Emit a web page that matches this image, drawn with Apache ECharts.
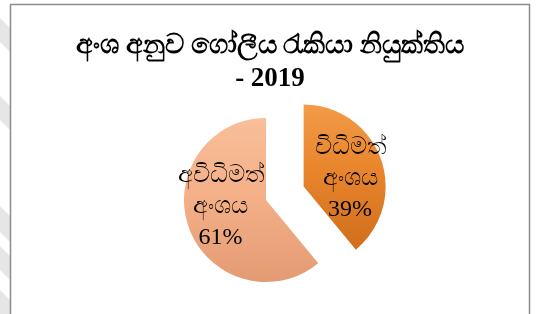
<!DOCTYPE html>
<html>
<head>
<meta charset="utf-8">
<script src="https://cdn.jsdelivr.net/npm/echarts@6/dist/echarts.min.js"></script>
<style>
  body { margin: 0; background: #fff; }
  #chart { width: 540px; height: 314px; }
</style>
</head>
<body>
<div id="chart"></div>
<script>
// chart data
var titleText = 'අංශ අනුව ගෝලීය රැකියා නියුක්තිය\n- 2019';
var sectors = ['විධිමත්\nඅංශය', 'අවිධිමත්\nඅංශය'];
var shares = [39, 61];

var chart = echarts.init(document.getElementById('chart'));

// excel-like bevel colours (top light -> bottom dark)
var fills = [
  new echarts.graphic.LinearGradient(0, 0, 0, 1, [
    { offset: 0, color: '#f29b48' },
    { offset: 0.45, color: '#e8852c' },
    { offset: 1, color: '#d06e1c' }
  ]),
  new echarts.graphic.LinearGradient(0, 0, 0, 1, [
    { offset: 0, color: '#f8bf9a' },
    { offset: 0.5, color: '#f4af86' },
    { offset: 1, color: '#e39b74' }
  ])
];

// label nudges (px) relative to the default inside position
var labelShift = [[5, 7], [-4, -8]];

var pieData = sectors.map(function (name, i) {
  return {
    name: name,
    value: shares[i],
    selected: i === 0,
    itemStyle: { color: fills[i] }
  };
});

// faint watermark streaks in the left margin
var streaks = [[18, 42], [96, 120], [206, 232], [246, 270], [290, 314]].map(function (s) {
  return {
    type: 'polygon',
    shape: { points: [[0, s[0]], [10, s[0] + 10], [10, s[1] + 10], [0, s[1]]] },
    style: { fill: '#e6e6e6' },
    silent: true
  };
});

var option = {
  title: {
    text: titleText,
    left: 'center',
    top: 25,
    textStyle: {
      fontFamily: 'Liberation Serif',
      fontSize: 27,
      fontWeight: 'bold',
      color: '#000',
      lineHeight: 33
    }
  },
  graphic: streaks.concat([{
    type: 'rect',
    shape: { x: 10.5, y: 4.5, width: 519, height: 320 },
    style: { fill: 'none', stroke: '#8c8c8c', lineWidth: 1.5 },
    silent: true
  }]),
  series: [{
    type: 'pie',
    center: [266, 200],
    radius: 82,
    startAngle: 90,
    selectedMode: 'single',
    selectedOffset: 40,
    animation: false,
    data: pieData,
    label: {
      show: true,
      position: 'inside',
      formatter: function (p) { return p.name + '\n' + p.value + '%'; },
      fontFamily: 'Liberation Serif',
      fontSize: 24,
      lineHeight: 31,
      color: '#000'
    },
    labelLayout: function (params) {
      var s = labelShift[params.dataIndex];
      return { dx: s[0], dy: s[1] };
    },
    labelLine: { show: false },
    emphasis: { disabled: true }
  }]
};

chart.setOption(option);
</script>
</body>
</html>
